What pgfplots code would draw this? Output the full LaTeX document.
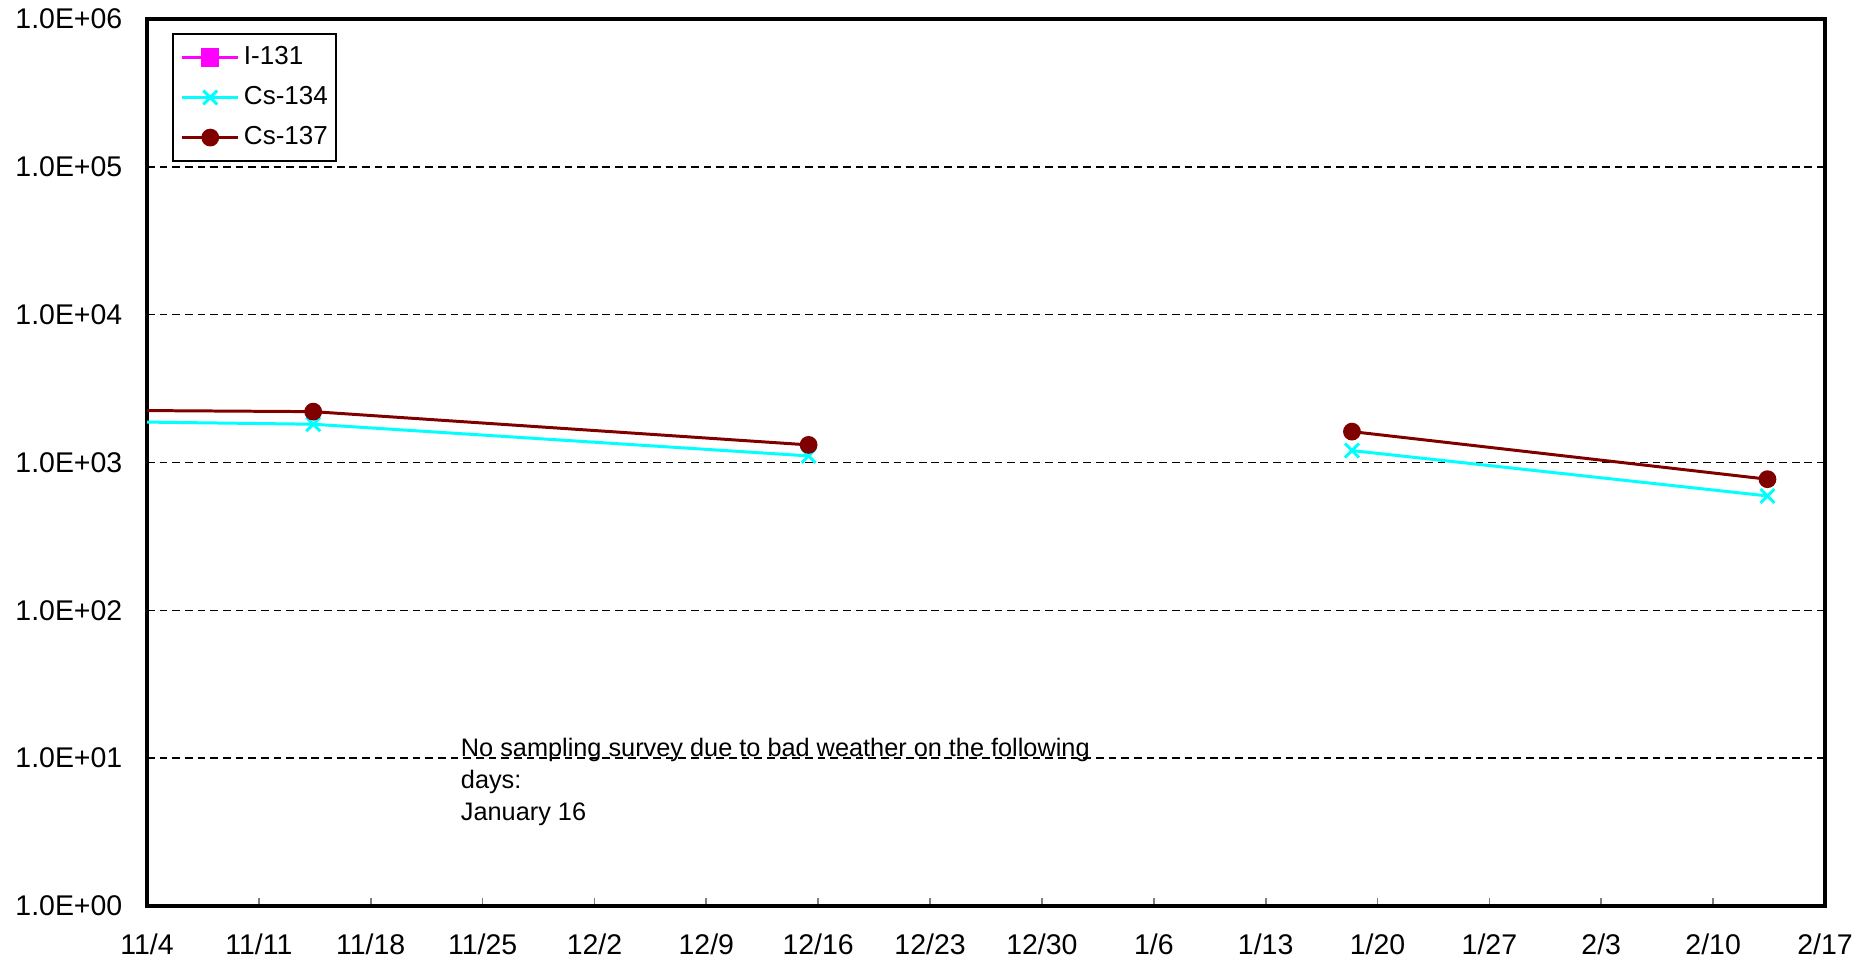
\documentclass[border=0pt]{standalone}
\usepackage{fontspec}
\setmainfont{Liberation Sans}
\usepackage{pgfplots}
\pgfplotsset{compat=1.18}
\definecolor{csred}{RGB}{128,0,0}
\definecolor{cscyan}{RGB}{0,255,255}
\definecolor{imag}{RGB}{255,0,255}
\begin{document}
\begin{tikzpicture}
\useasboundingbox (-1.47cm,-0.55cm) rectangle (17.25cm,9.06cm);
\begin{axis}[
  scale only axis, width=16.78cm, height=8.87cm,
  xmin=0, xmax=105, ymode=log, ymin=1, ymax=1e6,
  unbounded coords=jump,
  axis line style={line width=1.4pt},
  xtick={0,7,...,105},
  xticklabels={11/4,11/11,11/18,11/25,12/2,12/9,12/16,12/23,12/30,1/6,1/13,1/20,1/27,2/3,2/10,2/17},
  ytick={1,10,100,1000,10000,100000,1000000},
  yticklabels={1.0E+00,1.0E+01,1.0E+02,1.0E+03,1.0E+04,1.0E+05,1.0E+06},
  yminorticks=false,
  ytick style={draw=none},
  xtick pos=lower, tick align=inside,
  major tick length=0.08cm,
  xtick style={gray, line width=0.5pt},
  ymajorgrids, grid style={black, line width=0.45pt, dash pattern=on 2.2pt off 1.4pt},
  ticklabel style={font=\fontsize{8.1}{9.7}\selectfont},
  yticklabel style={xshift=-3.5pt},
  xticklabel style={yshift=-4.5pt},
  legend style={at={(axis description cs:0.0149,0.984)}, anchor=north west,
    draw=black, line width=0.6pt, font=\fontsize{7.4}{8.9}\selectfont,
    inner xsep=2.2pt, inner ysep=3pt, row sep=4.2pt,
    nodes={inner sep=0pt, text height=5.6pt, text depth=1.6pt},
    /tikz/every even column/.append style={column sep=4.6pt},
    /tikz/every odd column/.append style={column sep=1.2pt}},
  legend cell align=left,
  legend image code/.code={\draw[mark repeat=2,mark phase=2] plot coordinates {(0cm,0cm)(0.28cm,0cm)(0.56cm,0cm)};},
]
\addlegendimage{color=imag, line width=0.8pt, mark=square*, mark size=2.2pt, mark options={fill=imag}}
\addlegendentry{I-131}
\addplot[color=cscyan, line width=0.85pt, mark=x, mark size=2.8pt, mark options={line width=0.85pt}]
  coordinates {(-21,2006)(10.4,1815)(41.4,1108)(58,nan)(75.4,1204)(101.4,594)};
\addlegendentry{Cs-134}
\addplot[color=csred, line width=0.85pt, mark=*, mark size=2.1pt, mark options={fill=csred}]
  coordinates {(-21,2321)(10.4,2208)(41.4,1315)(58,nan)(75.4,1618)(101.4,771)};
\addlegendentry{Cs-137}
\node[anchor=north west, align=left, inner sep=0pt, font=\fontsize{7.2}{9}\selectfont]
  at (axis cs:19.6,13.7) {No sampling survey due to bad weather on the following\\days:\\January 16};
\end{axis}
\end{tikzpicture}
\end{document}
